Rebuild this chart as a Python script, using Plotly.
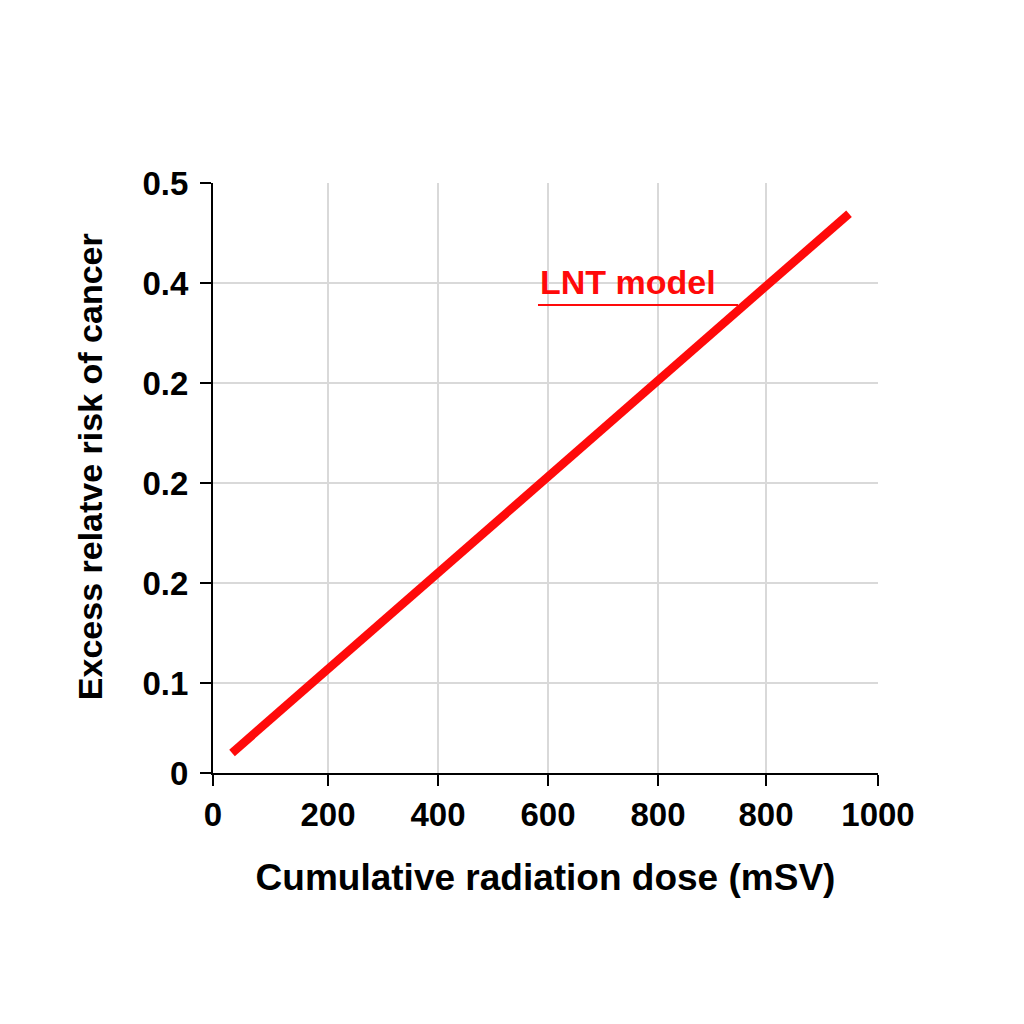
import plotly.graph_objects as go

# Data (axis units)
dose = [28.6, 956.4]
risk = [0.017, 0.474]

x_tickvals = [0, 172.9, 338.3, 503.8, 669.2, 831.6, 1000]
x_ticktext = ["0", "200", "400", "600", "800", "800", "1000"]
y_tickvals = [0, 0.0763, 0.1610, 0.2458, 0.3305, 0.4153, 0.5]
y_ticktext = ["0", "0.1", "0.2", "0.2", "0.2", "0.4", "0.5"]

FONT = "Liberation Sans, Arial, sans-serif"
RED = "#ff0a0a"

fig = go.Figure()
fig.add_trace(go.Scatter(x=dose, y=risk, mode="lines",
                         line=dict(color=RED, width=8.5), showlegend=False))

fig.add_annotation(x=488.7, y=0.4161, xref="x", yref="y", text="LNT model",
                   showarrow=False, xanchor="left", yanchor="middle",
                   font=dict(family=FONT, size=34, color=RED, weight="bold"))
fig.add_shape(type="line", x0=488.7, x1=789.5, y0=0.3966, y1=0.3966,
              xref="x", yref="y", line=dict(color=RED, width=2))

# y-axis title as an annotation (slightly above the axis centre, like the reference)
fig.add_annotation(x=-0.185, y=0.52, xref="paper", yref="paper",
                   text="Excess relatve risk of cancer", textangle=-90,
                   showarrow=False, xanchor="center", yanchor="middle",
                   font=dict(family=FONT, size=34, color="black", weight="bold"))

axis_common = dict(showline=True, linecolor="black", linewidth=2,
                   ticks="outside", ticklen=11, tickwidth=2, tickcolor="black",
                   showgrid=True, gridcolor="#d9d9d9", gridwidth=1.5,
                   zeroline=False,
                   tickfont=dict(family=FONT, size=33, color="black", weight="bold"))

fig.update_xaxes(range=[0, 1000], tickmode="array", tickvals=x_tickvals,
                 ticktext=x_ticktext,
                 title=dict(text="Cumulative radiation dose (mSV)", standoff=33,
                            font=dict(family=FONT, size=37, color="black", weight="bold")),
                 **axis_common)
fig.update_yaxes(range=[0, 0.5], tickmode="array", tickvals=y_tickvals,
                 ticktext=y_ticktext, ticklabelstandoff=5,
                 **axis_common)

fig.update_layout(width=1024, height=1024, plot_bgcolor="white", paper_bgcolor="white",
                  margin=dict(l=205, r=154, t=175, b=259, autoexpand=False))

fig.write_html("out.html")
